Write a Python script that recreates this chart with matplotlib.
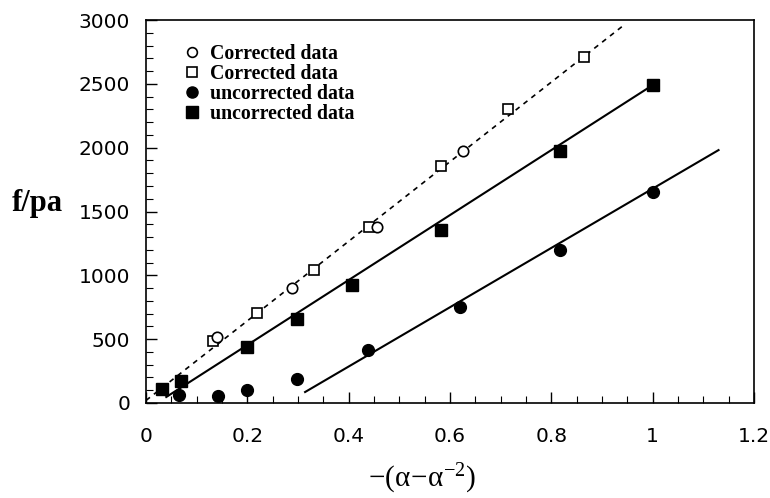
import matplotlib
matplotlib.use("Agg")
import matplotlib.pyplot as plt
from matplotlib.ticker import MultipleLocator
from matplotlib.lines import Line2D

# Data
corr_circle_x = [0.140, 0.288, 0.456, 0.625]
corr_circle_y = [517, 900, 1380, 1973]
corr_square_x = [0.132, 0.219, 0.331, 0.440, 0.582, 0.714, 0.864]
corr_square_y = [486, 705, 1041, 1378, 1856, 2302, 2710]
unc_circle_x = [0.065, 0.142, 0.199, 0.298, 0.438, 0.619, 0.817, 1.0]
unc_circle_y = [63, 55, 102, 188, 415, 752, 1198, 1652]
unc_square_x = [0.032, 0.069, 0.199, 0.298, 0.406, 0.582, 0.817, 1.0]
unc_square_y = [110, 172, 439, 658, 924, 1355, 1973, 2490]

# Fitted lines (endpoints)
fit_dashed_x = [0.0, 0.94]
fit_dashed_y = [20, 2950]
fit_upper_x = [0.04, 1.0]
fit_upper_y = [47, 2490]
fit_lower_x = [0.314, 1.13]
fit_lower_y = [86, 1981]

legend_labels = ["Corrected data", "Corrected data", "uncorrected data", "uncorrected data"]
x_ticks = [0, 0.2, 0.4, 0.6, 0.8, 1.0, 1.2]
x_tick_labels = ["0", "0.2", "0.4", "0.6", "0.8", "1", "1.2"]
y_ticks = [0, 500, 1000, 1500, 2000, 2500, 3000]

fig = plt.figure(figsize=(7.7, 4.98), dpi=100)
ax = fig.add_axes([146/770, 1-403/498, (754-146)/770, (403-20)/498])

ax.plot(fit_dashed_x, fit_dashed_y, color="black", lw=1.2, ls=(0, (3, 3)))
ax.plot(fit_upper_x, fit_upper_y, color="black", lw=1.5)
ax.plot(fit_lower_x, fit_lower_y, color="black", lw=1.5)

ax.plot(corr_square_x, corr_square_y, ls="none", marker="s", ms=7.5, mfc="white", mec="black", mew=1.2)
ax.plot(corr_circle_x, corr_circle_y, ls="none", marker="o", ms=7.5, mfc="white", mec="black", mew=1.2)
ax.plot(unc_circle_x, unc_circle_y, ls="none", marker="o", ms=8.5, mfc="black", mec="black")
ax.plot(unc_square_x, unc_square_y, ls="none", marker="s", ms=9, mfc="black", mec="black")

ax.set_xlim(0, 1.2)
ax.set_ylim(0, 3000)
ax.set_xticks(x_ticks)
ax.set_xticklabels(x_tick_labels)
ax.set_yticks(y_ticks)
ax.xaxis.set_minor_locator(MultipleLocator(0.05))
ax.yaxis.set_minor_locator(MultipleLocator(100))
ax.tick_params(which="both", direction="in", top=False, right=False, labelsize=14.5)
ax.tick_params(which="major", length=8, width=1)
ax.tick_params(which="minor", length=5, width=0.8)
ax.tick_params(axis="x", pad=17)
ax.tick_params(axis="y", pad=11.5)
for sp in ax.spines.values():
    sp.set_linewidth(1.2)

handles = [
    Line2D([], [], ls="none", marker="o", ms=7, mfc="white", mec="black", mew=1.2),
    Line2D([], [], ls="none", marker="s", ms=7, mfc="white", mec="black", mew=1.2),
    Line2D([], [], ls="none", marker="o", ms=8, mfc="black", mec="black"),
    Line2D([], [], ls="none", marker="s", ms=8, mfc="black", mec="black"),
]
leg = ax.legend(handles, legend_labels, loc="upper left", bbox_to_anchor=(0.027, 0.985),
                frameon=False, handletextpad=0.3, labelspacing=0.0, handlelength=1.2,
                prop={"family": "Liberation Serif", "weight": "bold", "size": 14.3})

fig.text(37/770, 1-211/498, "f/pa", family="Liberation Serif", weight="bold",
         fontsize=22, ha="center", va="baseline")
fig.text(422/770, 2/498, r"$\mathregular{-(\alpha\!-\!\alpha^{-2})}$", family="Liberation Serif",
         fontsize=21, ha="center", va="bottom")

fig.savefig("out.png", dpi=100)
